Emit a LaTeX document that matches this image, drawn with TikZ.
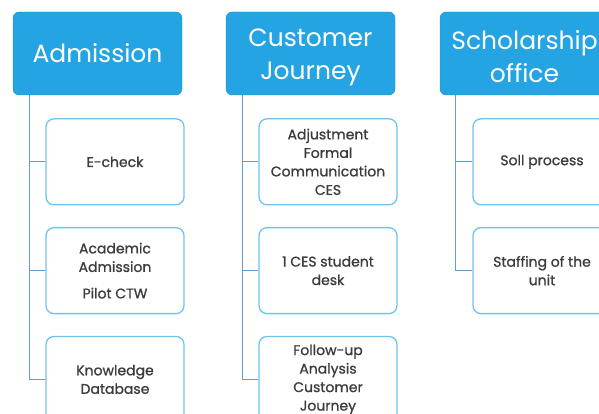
\documentclass[tikz,border=0pt]{standalone}
\usepackage{fontspec}
\setmainfont{Poppins}
\newfontfamily\itemfont{Poppins}[FakeBold=1]
\usetikzlibrary{positioning}
\definecolor{headblue}{RGB}{36,164,226}
\definecolor{boxblue}{RGB}{110,196,238}
\definecolor{linkblue}{RGB}{96,158,210}
\definecolor{itemtext}{RGB}{60,60,60}
\tikzset{
    head/.style={draw=headblue!90!black, fill=headblue, rounded corners=6pt, minimum width=169pt, minimum height=83pt, inner sep=0pt, text=white, align=center, font=\fontsize{25}{33}\selectfont},
    item/.style={draw=boxblue, line width=1.3pt, fill=white, rounded corners=8pt, minimum width=138pt, minimum height=86pt, inner sep=0pt, text=itemtext, align=center, font=\itemfont\fontsize{14}{18.5}\selectfont},
    link/.style={draw=linkblue, line width=1.3pt}
}

\begin{document}
\begin{tikzpicture}[x=1pt, y=1pt, node distance=21.5pt]
            \useasboundingbox (0,0) rectangle (599,414);
            \clip (0,0) rectangle (599,414);
            \node[head] (adm) at (97.5,360.5) {Admission};
            \node[head] (cj) at (310.5,360.5) {\rule{0pt}{26pt}Customer\\Journey};
            \node[head] (so) at (524.5,360.5) {\rule{0pt}{26pt}Scholarship\\office};
            % admission
            \node[item, below=23pt of adm, xshift=17.5pt] (echeck) {E-check};
            \node[item, below=of echeck] (acad) {Academic\\Admission\\[8pt]Pilot CTW};
            \node[item, below=of acad] (know) {Knowledge\\Database};
            % customer journey
            \node[item, below=23pt of cj, xshift=17.5pt] (adjust) {Adjustment\\Formal\\Communication\\CES};
            \node[item, below=of adjust] (desk) {1 CES student\\desk};
            \node[item, below=of desk] (follow) {Follow-up\\Analysis\\Customer\\Journey};
            % scholarship office
            \node[item, below=23pt of so, xshift=17.5pt] (soll) {Soll process};
            \node[item, below=of soll] (staff) {Staffing of the\\unit};
            \foreach \c in {echeck,acad,know}
                \draw[link] ([xshift=17pt]adm.south west) |- (\c.west);
            \foreach \c in {adjust,desk,follow}
                \draw[link] ([xshift=17pt]cj.south west) |- (\c.west);
            \foreach \c in {soll,staff}
                \draw[link] ([xshift=16pt]so.south west) |- (\c.west);
        \end{tikzpicture}
\end{document}
